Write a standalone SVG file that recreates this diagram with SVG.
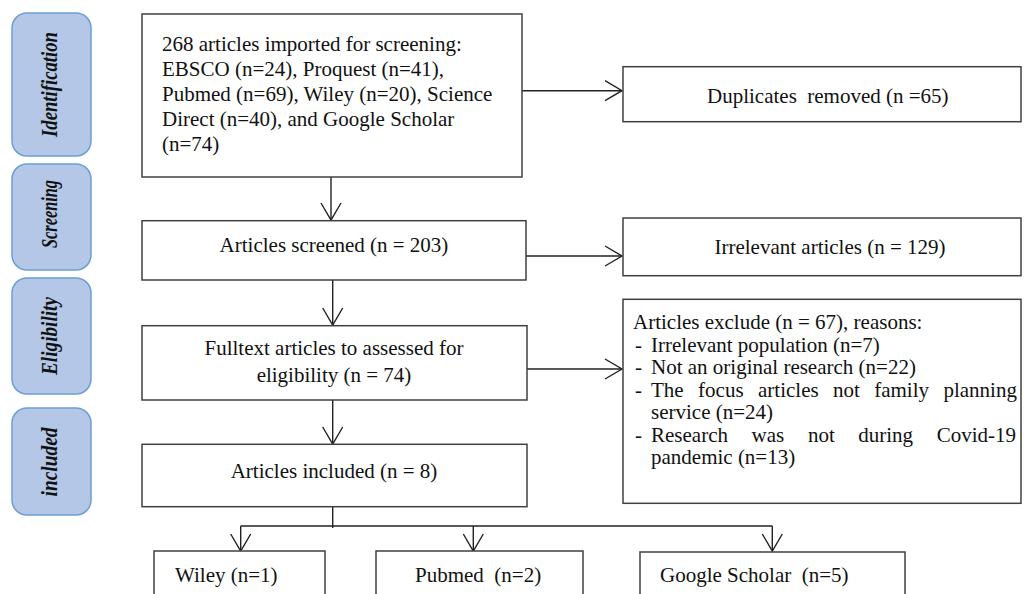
<svg xmlns="http://www.w3.org/2000/svg" width="1024" height="594" viewBox="0 0 1024 594">
<style>
.box{fill:#fff;stroke:#404040;stroke-width:1.5}
.side{fill:#b4c7e7;stroke:#6a9fd8;stroke-width:1.5}
.t{font-family:"Liberation Serif","Times New Roman",serif;font-size:21px;fill:#111}
.c{text-anchor:middle}
.s{font-family:"Liberation Serif","Times New Roman",serif;font-size:24px;font-weight:bold;font-style:italic;fill:#111;text-anchor:middle}
.ln{fill:none;stroke:#222;stroke-width:1.4}
</style>
<defs>
<marker id="ah" markerUnits="userSpaceOnUse" viewBox="-18 -12 20 24" refX="0" refY="0" markerWidth="20" markerHeight="24" orient="auto">
<path d="M-17,-10 L0,0 L-17,10" fill="none" stroke="#222" stroke-width="1.4"/>
</marker>
</defs>
<rect width="1024" height="594" fill="#fff"/>

<g id="stage-identification">
<rect class="side" x="12" y="13" width="79" height="143" rx="15"/>
<text class="s" transform="translate(57,84.5) rotate(-90)" textLength="105" lengthAdjust="spacingAndGlyphs">Identification</text>
</g>
<g id="stage-screening">
<rect class="side" x="12" y="164" width="79" height="106" rx="15"/>
<text class="s" transform="translate(57,214) rotate(-90)" textLength="68" lengthAdjust="spacingAndGlyphs">Screening</text>
</g>
<g id="stage-eligibility">
<rect class="side" x="12" y="278" width="79" height="116" rx="15"/>
<text class="s" transform="translate(57,336) rotate(-90)" textLength="78" lengthAdjust="spacingAndGlyphs">Eligibility</text>
</g>
<g id="stage-included">
<rect class="side" x="12" y="408" width="79" height="107" rx="15"/>
<text class="s" transform="translate(57,462) rotate(-90)" textLength="69" lengthAdjust="spacingAndGlyphs">included</text>
</g>

<g id="connectors">
<line class="ln" x1="331" y1="177" x2="331" y2="220" marker-end="url(#ah)"/>
<line class="ln" x1="522" y1="90.7" x2="622" y2="90.7" marker-end="url(#ah)"/>
<line class="ln" x1="332.7" y1="280" x2="332.7" y2="325" marker-end="url(#ah)"/>
<line class="ln" x1="526" y1="256" x2="622" y2="256" marker-end="url(#ah)"/>
<line class="ln" x1="332.7" y1="400" x2="332.7" y2="444" marker-end="url(#ah)"/>
<line class="ln" x1="527" y1="369" x2="622" y2="369" marker-end="url(#ah)"/>
<line class="ln" x1="332.7" y1="506.7" x2="332.7" y2="528"/>
<line class="ln" x1="240.7" y1="526" x2="772.3" y2="526"/>
<line class="ln" x1="240.7" y1="526" x2="240.7" y2="551" marker-end="url(#ah)"/>
<line class="ln" x1="473.3" y1="526" x2="473.3" y2="551" marker-end="url(#ah)"/>
<line class="ln" x1="772.3" y1="526" x2="772.3" y2="551" marker-end="url(#ah)"/>
</g>

<g id="imported">
<rect class="box" x="142" y="14" width="380" height="163"/>
<text class="t" x="162" y="50.7">268 articles imported for screening:</text>
<text class="t" x="162" y="75.7">EBSCO (n=24), Proquest (n=41),</text>
<text class="t" x="162" y="100.7">Pubmed (n=69), Wiley (n=20), Science</text>
<text class="t" x="162" y="125.7">Direct (n=40), and Google Scholar</text>
<text class="t" x="162" y="150.7">(n=74)</text>
</g>
<g id="duplicates">
<rect class="box" x="623" y="66.7" width="398" height="55"/>
<text class="t" x="707" y="102.5" xml:space="preserve">Duplicates  removed (n =65)</text>
</g>
<g id="screened">
<rect class="box" x="142" y="220.7" width="384" height="59.3"/>
<text class="t c" x="334" y="252">Articles screened (n = 203)</text>
</g>
<g id="irrelevant">
<rect class="box" x="623" y="218" width="398" height="57.7"/>
<text class="t c" x="830" y="254">Irrelevant articles (n = 129)</text>
</g>
<g id="fulltext">
<rect class="box" x="142" y="325.7" width="385" height="74.3"/>
<text class="t c" x="334" y="355">Fulltext articles to assessed for</text>
<text class="t c" x="334" y="381.5">eligibility (n = 74)</text>
</g>
<g id="excluded">
<rect class="box" x="623" y="299.3" width="398" height="204"/>
<text class="t" x="633" y="329">Articles exclude (n = 67), reasons:</text>
<text class="t" x="635" y="351.5">-</text><text class="t" x="651" y="351.5">Irrelevant population (n=7)</text>
<text class="t" x="635" y="374">-</text><text class="t" x="651" y="374">Not an original research (n=22)</text>
<text class="t" x="635" y="396.5">-</text>
<text class="t" y="396.5"><tspan x="651">The</tspan><tspan x="698.1">focus</tspan><tspan x="758">articles</tspan><tspan x="833">not</tspan><tspan x="874.2">family</tspan><tspan x="943.4">planning</tspan></text>
<text class="t" x="651" y="419">service (n=24)</text>
<text class="t" x="635" y="441.5">-</text>
<text class="t" y="441.5"><tspan x="651">Research</tspan><tspan x="751.6">was</tspan><tspan x="807.9">not</tspan><tspan x="858.3">during</tspan><tspan x="936.7">Covid-19</tspan></text>
<text class="t" x="651" y="464">pandemic (n=13)</text>
</g>
<g id="included">
<rect class="box" x="142" y="444.3" width="385" height="62.4"/>
<text class="t c" x="334" y="478">Articles included (n = 8)</text>
</g>
<g id="wiley">
<rect class="box" x="154" y="551" width="171" height="60"/>
<text class="t" x="175" y="582">Wiley (n=1)</text>
</g>
<g id="pubmed">
<rect class="box" x="376" y="551" width="207" height="60"/>
<text class="t" x="415" y="582" xml:space="preserve">Pubmed  (n=2)</text>
</g>
<g id="google">
<rect class="box" x="640" y="552" width="265" height="60"/>
<text class="t" x="660" y="582" xml:space="preserve">Google Scholar  (n=5)</text>
</g>
</svg>
